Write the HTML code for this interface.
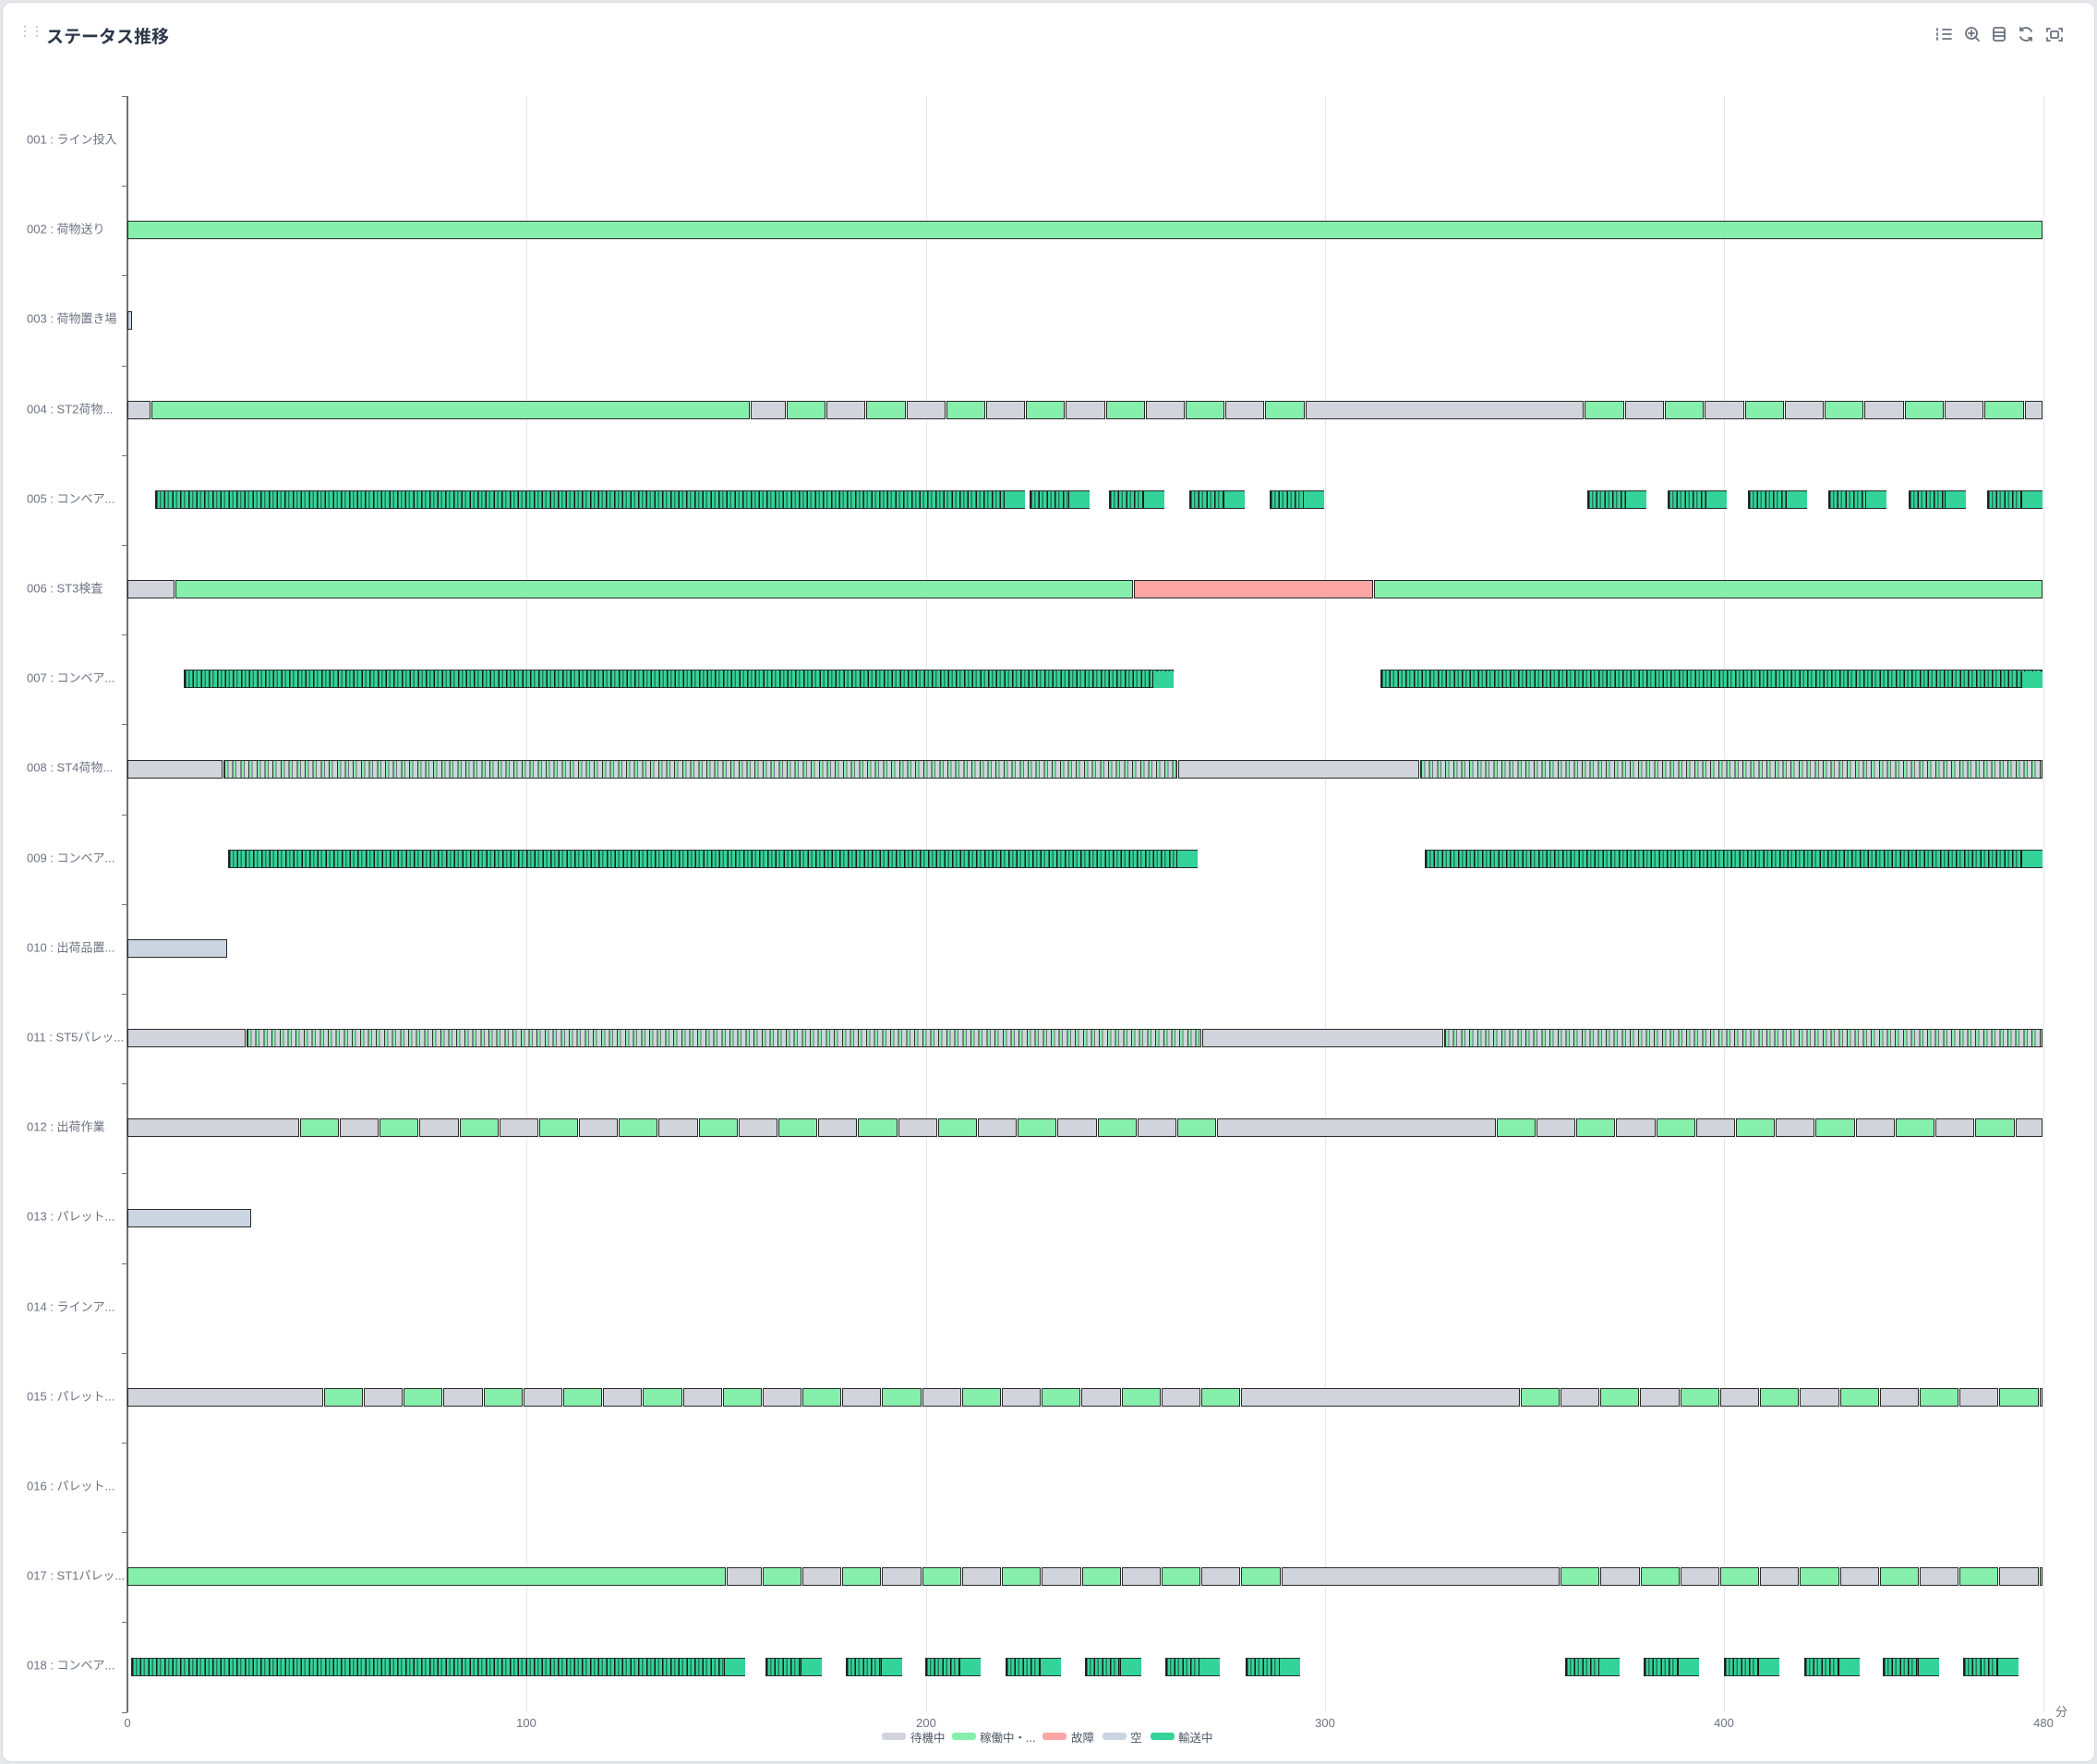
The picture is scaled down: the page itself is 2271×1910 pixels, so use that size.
<!DOCTYPE html>
<html><head><meta charset="utf-8">
<style>
html,body{margin:0;padding:0;background:#e5e7eb;}
#card{position:absolute;left:2px;top:2px;width:2265px;height:1904px;background:#fff;border:1px solid #d8dbe0;border-radius:10px;overflow:hidden;font-family:"Liberation Sans","Noto Sans CJK JP",sans-serif;}
#wrap{position:absolute;left:-3px;top:-3px;width:2271px;height:1910px;}
.t{position:absolute;white-space:nowrap;}
.lab{position:absolute;left:29px;font-size:13px;color:#6b7280;transform:translateY(-50%);}
.xl{position:absolute;font-size:13px;color:#6b7280;transform:translateX(-50%);}
.b{position:absolute;height:18px;border:1.5px solid #2a2a2a;box-sizing:content-box;}
.g{background:#d1d5db}.G{background:#86efac}.R{background:#fca5a5}.S{background:#cbd5e1}
.T{background:repeating-linear-gradient(90deg,#1a1a1a 0 1.5px,#34d399 1.5px 4px,#237a5c 4px 5.5px,#34d399 5.5px 8.7px);}
.M{background:repeating-linear-gradient(90deg,#333 0 1px,#86efac 1px 3.5px,#6b7280 3.5px 4.5px,#d1d5db 4.5px 8.7px);}
.grid{position:absolute;top:104px;height:1750px;width:1px;background:#e5e7eb;}
.tick{position:absolute;left:132px;width:6px;height:1px;background:#6b7280;}
.lg{position:absolute;top:1876px;height:8px;width:26px;border-radius:3px;}
.lt{position:absolute;top:1871px;font-size:12.5px;color:#4b5563;}
</style></head><body>
<div id="card"><div id="wrap">
<div class="t" style="left:20px;top:30px;color:#9ca3af;font-size:14px;letter-spacing:-1px;line-height:6px">⋮⋮</div>
<div class="t" style="left:50px;top:25px;font-size:19px;font-weight:bold;color:#2d3748">ステータス推移</div>
<svg style="position:absolute;left:2090px;top:26px" width="170" height="24" viewBox="0 0 170 24" fill="none" stroke="#6b7280" stroke-width="1.8" stroke-linecap="round">
<path d="M14 6h9M14 11h9M14 16h9M8 5v2M8 10v2M8 15v2"/>
<circle cx="45" cy="10" r="6"/><path d="M49 14l4 4M45 7v6M42 10h6"/>
<rect x="69" y="4" width="12" height="14" rx="2"/><path d="M69 9h12M69 13h12"/>
<path d="M110 8a7 7 0 0 0-12-1M98 14a7 7 0 0 0 12 1M98 4v3h3M110 18v-3h-3"/>
<path d="M127 8V5h3M140 5h3v3M143 15v3h-3M130 18h-3v-3"/><rect x="131" y="8" width="8" height="7" rx="1"/>
</svg>
<div id="plot"></div>
<div class="t" style="left:2226px;top:1843px;font-size:13px;color:#6b7280">分</div>
<div class="lg" style="left:955px;background:#d1d5db"></div><div class="lt" style="left:986px">待機中</div>
<div class="lg" style="left:1031px;background:#86efac"></div><div class="lt" style="left:1061px">稼働中・...</div>
<div class="lg" style="left:1129px;background:#fca5a5"></div><div class="lt" style="left:1160px">故障</div>
<div class="lg" style="left:1194px;background:#cbd5e1"></div><div class="lt" style="left:1224px">空</div>
<div class="lg" style="left:1246px;background:#34d399"></div><div class="lt" style="left:1276px">輸送中</div>
<div class="lab" style="top:150px">001 : ライン投入</div>
<div class="lab" style="top:247px">002 : 荷物送り</div>
<div class="lab" style="top:344px">003 : 荷物置き場</div>
<div class="lab" style="top:442px">004 : ST2荷物...</div>
<div class="lab" style="top:539px">005 : コンベア...</div>
<div class="lab" style="top:636px">006 : ST3検査</div>
<div class="lab" style="top:733px">007 : コンベア...</div>
<div class="lab" style="top:830px">008 : ST4荷物...</div>
<div class="lab" style="top:928px">009 : コンベア...</div>
<div class="lab" style="top:1025px">010 : 出荷品置...</div>
<div class="lab" style="top:1122px">011 : ST5パレッ...</div>
<div class="lab" style="top:1219px">012 : 出荷作業</div>
<div class="lab" style="top:1316px">013 : パレット...</div>
<div class="lab" style="top:1414px">014 : ラインア...</div>
<div class="lab" style="top:1511px">015 : パレット...</div>
<div class="lab" style="top:1608px">016 : パレット...</div>
<div class="lab" style="top:1705px">017 : ST1パレッ...</div>
<div class="lab" style="top:1802px">018 : コンベア...</div>
<div class="xl" style="left:138px;top:1858px">0</div>
<div class="xl" style="left:570px;top:1858px">100</div>
<div class="xl" style="left:1003px;top:1858px">200</div>
<div class="xl" style="left:1435px;top:1858px">300</div>
<div class="xl" style="left:1867px;top:1858px">400</div>
<div class="xl" style="left:2213px;top:1858px">480</div>
</div></div>
<script>
var P=document.getElementById('plot');
function px(d){return (d-95)*1.448+138;}
function add(h){P.insertAdjacentHTML('beforeend',h);}
[100,200,300,400,480].forEach(function(m){add('<div class="grid" style="left:'+(138+m*4.323)+'px"></div>');});
add('<div style="position:absolute;left:137px;top:104px;width:1.5px;height:1750px;background:#6b7280"></div>');
for(var i=0;i<=18;i++)add('<div class="tick" style="top:'+(104+i*97.2)+'px"></div>');
function yc(r){return 104+(r-0.5)*97.2;}
function seg(r,a,b,c){var x=px(a),w=px(b)-x-3;if(w<1)w=1;add('<div class="b '+c+'" style="left:'+x+'px;top:'+(yc(r)-10.5)+'px;width:'+w+'px"></div>');}
function alt(r,a,b,n,first){var s=(b-a)/n;for(var k=0;k<n;k++){seg(r,a+k*s,a+(k+1)*s,(k%2==0)?first:(first=='G'?'g':'G'));}}
function tr(r,a,b){seg(r,a,b,'T');var x=px(b)-24;add('<div style="position:absolute;left:'+x+'px;top:'+(yc(r)-9)+'px;width:22px;height:18px;background:#34d399;border-left:1.5px solid #1a1a1a"></div>');}
seg(2,95,1528,'G');
seg(3,95,99,'S');
seg(4,95,113,'g');seg(4,113,561,'G');seg(4,561,588,'g');alt(4,588,976,13,'G');seg(4,976,1185,'g');alt(4,1185,1514,11,'G');seg(4,1514,1528,'g');
[[116,767],[770,815],[829,871],[889,931],[949,991],[1187,1232],[1247,1292],[1307,1352],[1367,1411],[1427,1471],[1486,1528]].forEach(function(s){tr(5,s[0],s[1]);});
seg(6,95,131,'g');seg(6,131,848,'G');seg(6,848,1027,'R');seg(6,1027,1528,'G');
tr(7,137,878);tr(7,1032,1528);
seg(8,95,167,'g');seg(8,167,881,'M');seg(8,881,1062,'g');seg(8,1062,1528,'M');
tr(9,170,896);tr(9,1065,1528);
seg(10,95,170,'S');
seg(11,95,184,'g');seg(11,184,899,'M');seg(11,899,1080,'g');seg(11,1080,1528,'M');
seg(12,95,224,'g');alt(12,224,910,23,'G');seg(12,910,1119,'g');alt(12,1119,1507,13,'G');seg(12,1507,1528,'g');
seg(13,95,188,'S');
seg(15,95,242,'g');alt(15,242,928,23,'G');seg(15,928,1137,'g');alt(15,1137,1525,13,'G');seg(15,1525,1528,'g');
seg(17,95,543,'G');seg(17,543,570,'g');alt(17,570,958,13,'G');seg(17,958,1167,'g');alt(17,1167,1525,12,'G');seg(17,1525,1528,'G');
[[98,558],[572,615],[632,675],[692,734],[752,794],[811,854],[871,913],[931,973],[1170,1212],[1229,1271],[1289,1331],[1349,1391],[1408,1451],[1468,1510]].forEach(function(s){tr(18,s[0],s[1]);});
</script>
</body></html>
